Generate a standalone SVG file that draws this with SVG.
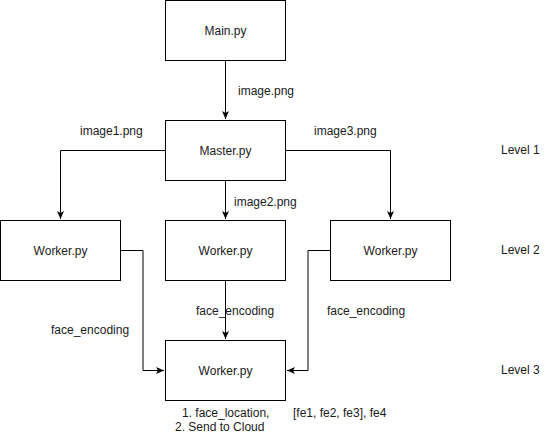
<svg xmlns="http://www.w3.org/2000/svg" width="546" height="436" viewBox="0 0 546 436">
<defs>
<marker id="arr" markerUnits="userSpaceOnUse" markerWidth="10" markerHeight="10" viewBox="0 0 10 10" refX="9" refY="5" orient="auto">
<path d="M1,1.5 L9,5 L1,8.5 L3,5 Z" fill="#000"/>
</marker>
<style>
.box{fill:#fff;stroke:#000;stroke-width:1}
.t{font-family:"Liberation Sans",Arial,sans-serif;font-size:12px;fill:#1a1a1a}
.c{text-anchor:middle}
.ln{fill:none;stroke:#000;stroke-width:1}
</style>
</defs>
<rect width="546" height="436" fill="#fff"/>
<g id="connectors">
<path class="ln" d="M225.5,60.5 V119" marker-end="url(#arr)"/>
<path class="ln" d="M165.5,150.5 H60.5 V219" marker-end="url(#arr)"/>
<path class="ln" d="M285.5,150.5 H390.5 V219" marker-end="url(#arr)"/>
<path class="ln" d="M225.5,180.5 V219" marker-end="url(#arr)"/>
<path class="ln" d="M225.5,280.5 V339" marker-end="url(#arr)"/>
<path class="ln" d="M120.5,250.5 H143 V370.5 H164" marker-end="url(#arr)"/>
<path class="ln" d="M330.5,250.5 H308 V370.5 H287" marker-end="url(#arr)"/>
</g>
<g id="main"><rect class="box" x="165.5" y="0.5" width="120" height="60"/><text class="t c" x="225.5" y="34.5">Main.py</text></g>
<g id="master"><rect class="box" x="165.5" y="120.5" width="120" height="60"/><text class="t c" x="225.5" y="154.5">Master.py</text></g>
<g id="worker1"><rect class="box" x="0.5" y="220.5" width="120" height="60"/><text class="t c" x="60.5" y="254.5">Worker.py</text></g>
<g id="worker2"><rect class="box" x="165.5" y="220.5" width="120" height="60"/><text class="t c" x="225.5" y="254.5">Worker.py</text></g>
<g id="worker3"><rect class="box" x="330.5" y="220.5" width="120" height="60"/><text class="t c" x="390.5" y="254.5">Worker.py</text></g>
<g id="worker4"><rect class="box" x="165.5" y="340.5" width="120" height="60"/><text class="t c" x="225.5" y="374.5">Worker.py</text></g>
<g id="labels">
<text class="t" x="238" y="95">image.png</text>
<text class="t" x="80" y="135">image1.png</text>
<text class="t" x="314" y="135">image3.png</text>
<text class="t" x="234" y="206">image2.png</text>
<text class="t" x="196" y="315">face_encoding</text>
<text class="t" x="51" y="334">face_encoding</text>
<text class="t" x="327" y="315">face_encoding</text>
<text class="t" x="501" y="154">Level 1</text>
<text class="t" x="501" y="254">Level 2</text>
<text class="t" x="501" y="374">Level 3</text>
<text class="t" x="182" y="417">1. face_location,</text>
<text class="t" x="175" y="431">2. Send to Cloud</text>
<text class="t" x="293" y="417">[fe1, fe2, fe3], fe4</text>
</g>
</svg>
